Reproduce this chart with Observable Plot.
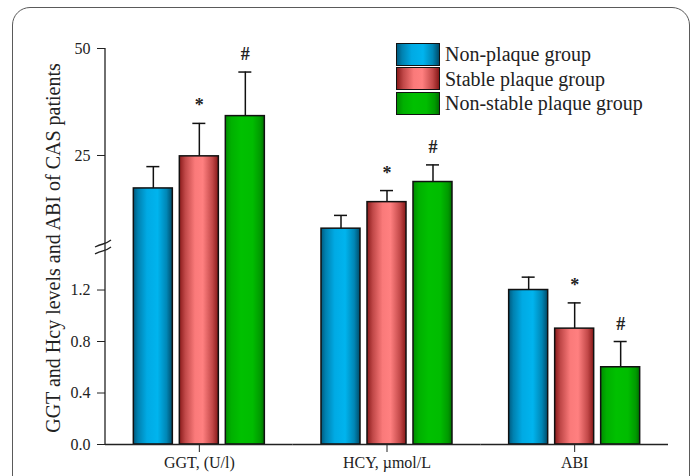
<!DOCTYPE html>
<html><head><meta charset="utf-8">
<script src="https://cdn.jsdelivr.net/npm/d3@7"></script>
<script src="https://cdn.jsdelivr.net/npm/@observablehq/plot@0.6"></script>
<style>
body{margin:0;background:#fff;}
#wrap{position:relative;width:697px;height:476px;overflow:hidden;font-family:"Liberation Serif","Times New Roman","Tinos","DejaVu Serif",serif;}
#border{position:absolute;left:12px;top:7px;width:676px;height:540px;border:1.5px solid #5a5a5a;border-radius:18px;}
#chart{position:absolute;left:0;top:0;}
#legend{position:absolute;left:396px;top:42px;}
.row{display:flex;align-items:center;height:24.5px;}
.sw{width:42px;height:21px;border:1.5px solid #111;margin-right:5px;box-sizing:content-box;}
.lab{font-size:20px;color:#222;line-height:1;}
</style></head>
<body><div id="wrap"><div id="border"></div><div id="chart"></div><div id="legend"></div></div>
<script>
// ---- data ----
const categories = ["GGT, (U/l)", "HCY, \u00b5mol/L", "ABI"];
const groups = ["Non-plaque group", "Stable plaque group", "Non-stable plaque group"];
const ggtMeans = [17.3, 24.8, 34.2];
const ggtSds   = [5.1, 7.7, 10.3];
const hcyMeans = [7.9, 14.1, 18.8];
const hcySds   = [3.1, 2.7, 4.0];
const abiMeans = [1.20, 0.90, 0.60];
const abiSds   = [0.10, 0.20, 0.20];
const markers  = ["", "*", "#"];
const yTicks   = [0, 0.4, 0.8, 1.2, 25, 50];
const yLabel   = "GGT and Hcy levels and ABI of CAS patients";

// ---- styles ----
const FONT = '"Liberation Serif","Times New Roman","Tinos","DejaVu Serif",serif';
const gradients = [
  {id: "gBlue",  stops: [[0, "#005a7e"], [0.12, "#0081b0"], [0.35, "#00aae4"], [0.62, "#00b4ee"], [0.85, "#0087b6"], [1, "#004c6a"]]},
  {id: "gRed",   stops: [[0, "#8a1a1a"], [0.15, "#c04848"], [0.4, "#fa7a7a"], [0.6, "#ff8080"], [0.85, "#c24848"], [1, "#861818"]]},
  {id: "gGreen", stops: [[0, "#008c00"], [0.15, "#00b000"], [0.4, "#00c000"], [0.7, "#00bc00"], [0.9, "#009a00"], [1, "#007000"]]}
];

const means = [ggtMeans, hcyMeans, abiMeans];
const sds = [ggtSds, hcySds, abiSds];
const rows = categories.flatMap((c, i) => groups.map((g, j) => ({
  category: c, group: g, mean: means[i][j], sd: sds[i][j], top: means[i][j] + sds[i][j], marker: markers[j]
})));

const W = 697, H = 476;
const mL = 105, mR = 29, mT = 48, mB = 32;

const plot = Plot.plot({
  width: W, height: H,
  marginLeft: mL, marginRight: mR, marginTop: mT, marginBottom: mB,
  style: {fontFamily: FONT, fontSize: "16px", color: "#222", background: "transparent"},
  fx: {domain: categories, paddingInner: 0, paddingOuter: 0, round: false, label: null, axis: "bottom", tickSize: 8, tickPadding: 4},
  x: {domain: groups, paddingInner: 0.152, paddingOuter: 0.616, round: false, axis: null},
  y: {type: "linear", domain: [0, 1.5, 4.2, 50], range: [H - mB, 250.9, 244, mT], ticks: yTicks,
      tickFormat: d => d < 2 ? d.toFixed(1) : String(d), tickSize: 8, tickPadding: 7, label: null},
  color: {type: "ordinal", domain: groups, range: gradients.map(g => `url(#${g.id})`)},
  marks: [
    Plot.ruleX(rows, {fx: "category", x: "group", y1: "mean", y2: "top", stroke: "#111", strokeWidth: 1.5}),
    Plot.tickY(rows, {fx: "category", x: "group", y: "top", insetLeft: 13, insetRight: 13, stroke: "#111", strokeWidth: 1.5}),
    Plot.barY(rows, {fx: "category", x: "group", y1: 0, y2: "mean", fill: "group", stroke: "#111", strokeWidth: 1.5}),
    Plot.text(rows.filter(d => d.marker), {fx: "category", x: "group", y: "top", text: "marker", dy: -12, lineAnchor: "bottom",
      fontSize: 18, fontWeight: "bold", fill: "#222"}),
    Plot.ruleY([0], {stroke: "#222", strokeWidth: 1.3})
  ]
});

// gradient definitions
const svg = d3.select(plot);
const defs = svg.insert("defs", ":first-child");
gradients.forEach(g => {
  const lg = defs.append("linearGradient").attr("id", g.id).attr("x1", 0).attr("x2", 1).attr("y1", 0).attr("y2", 0);
  g.stops.forEach(([o, c]) => lg.append("stop").attr("offset", o).attr("stop-color", c));
});

// y axis line, break marks and title, placed through the plot's y scale
const ys = plot.scale("y");
const yTop = ys.apply(50), yBot = ys.apply(0);
const deco = svg.append("g").attr("stroke", "#222").attr("fill", "none");
deco.append("line").attr("x1", mL).attr("x2", mL).attr("y1", yTop).attr("y2", yBot).attr("stroke-width", 1.3);
[ys.apply(4.2), ys.apply(1.5)].forEach(yy => {
  deco.append("path").attr("stroke-width", 1.3)
    .attr("d", `M${mL - 10},${yy + 3} q4,-2 8,-3 q4,-1 8,-4`);
});
svg.append("text")
  .attr("transform", `translate(60,${(ys.apply(0) + ys.apply(50)) / 2 + 2}) rotate(-90)`)
  .attr("text-anchor", "middle")
  .style("font-family", FONT)
  .attr("font-size", 20)
  .attr("fill", "#222")
  .text(yLabel);

document.getElementById("chart").appendChild(plot);

// legend
const leg = d3.select("#legend");
groups.forEach((g, j) => {
  const r = leg.append("div").attr("class", "row");
  const st = gradients[j].stops.map(([o, c]) => `${c} ${o * 100}%`).join(",");
  r.append("div").attr("class", "sw").style("background", `linear-gradient(to right, ${st})`);
  r.append("span").attr("class", "lab").text(g);
});
</script>
</body></html>
